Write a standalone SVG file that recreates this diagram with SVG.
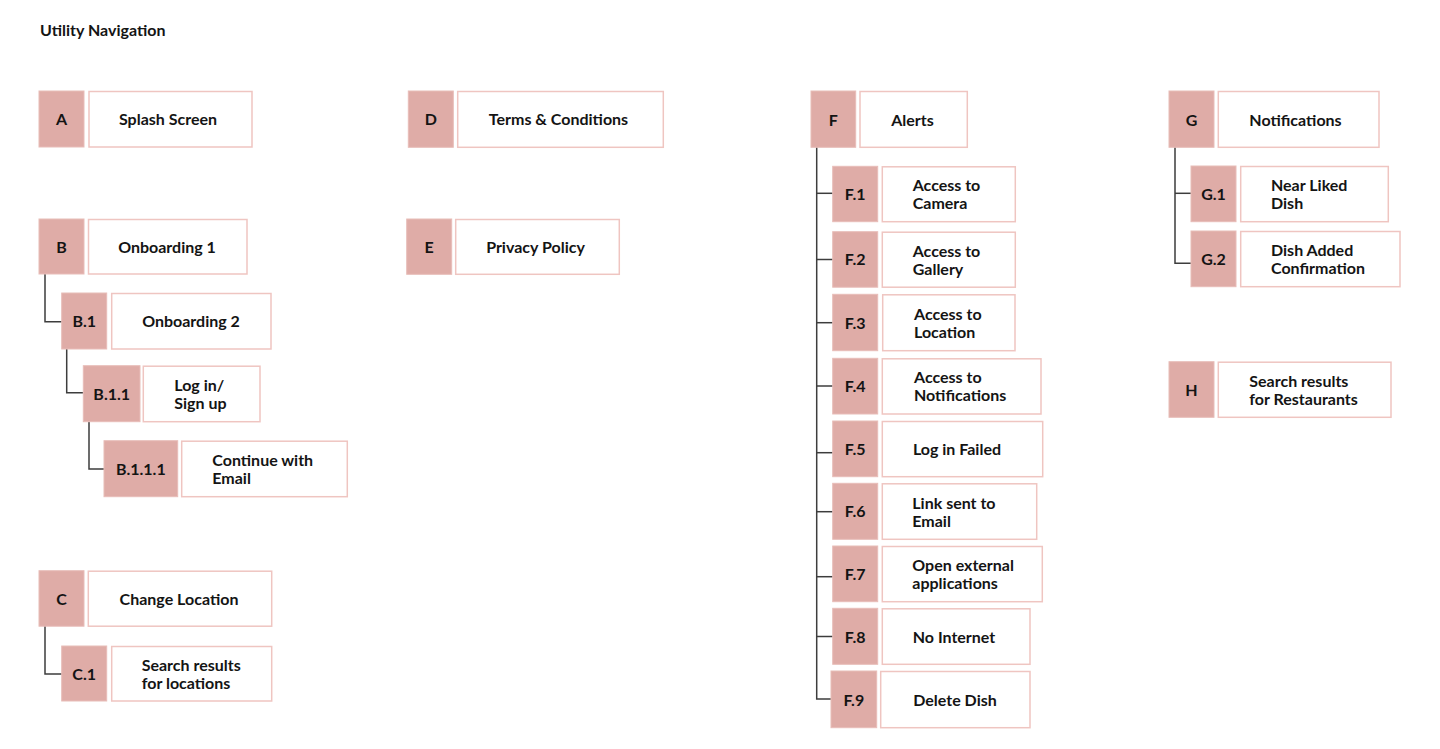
<svg xmlns="http://www.w3.org/2000/svg" width="1440" height="749" viewBox="0 0 1440 749">
<style>
.code{fill:#dfaca7;stroke:#e8bdb8;stroke-width:1}
.lab{fill:#ffffff;stroke:#efc5c1;stroke-width:1.5}
text{font-family:Lato,"Noto Sans",sans-serif;font-weight:700;font-size:16px;fill:#141414}
.c{text-anchor:middle}
.title{font-size:16px}
.conn{fill:none;stroke:#3d3d3d;stroke-width:1.5}
</style>
<rect width="1440" height="749" fill="#ffffff"/>
<text x="40" y="36" class="title">Utility Navigation</text>

<g id="connectors">
<path class="conn" d="M45 274 V321.7 H62"/>
<path class="conn" d="M66.7 349 V392.7 H83.5"/>
<path class="conn" d="M89 421.7 V469 H104"/>
<path class="conn" d="M45 626 V674 H62"/>
<path class="conn" d="M816.7 147 V699 H831"/>
<path class="conn" d="M816.7 193.3 H833"/>
<path class="conn" d="M816.7 259.5 H833"/>
<path class="conn" d="M816.7 322.7 H833"/>
<path class="conn" d="M816.7 386 H833"/>
<path class="conn" d="M816.7 452.7 H833"/>
<path class="conn" d="M816.7 511.7 H833"/>
<path class="conn" d="M816.7 576.7 H833"/>
<path class="conn" d="M816.7 636.5 H833"/>
<path class="conn" d="M1175 147 V263.3 H1191"/>
<path class="conn" d="M1175 193.3 H1191"/>
</g>

<g id="A">
<rect class="code" x="39" y="91" width="45" height="56"/>
<rect class="lab" x="89" y="91.5" width="163" height="55.5"/>
<text class="c" x="61.5" y="125">A</text>
<text class="c" x="168" y="125">Splash Screen</text>
</g>

<g id="B">
<rect class="code" x="39" y="219" width="45" height="55"/>
<rect class="lab" x="88.5" y="219.5" width="158.5" height="54.5"/>
<text class="c" x="61.5" y="252.5">B</text>
<text class="c" x="167" y="252.5">Onboarding 1</text>
</g>

<g id="B.1">
<rect class="code" x="61.7" y="293" width="45" height="56"/>
<rect class="lab" x="111.7" y="293.5" width="159.3" height="55.5"/>
<text class="c" x="84.2" y="327">B.1</text>
<text class="c" x="191" y="327">Onboarding 2</text>
</g>

<g id="B.1.1">
<rect class="code" x="83.3" y="365.7" width="56.7" height="56"/>
<rect class="lab" x="143.3" y="366.2" width="116.7" height="55.5"/>
<text class="c" x="111.7" y="399.5">B.1.1</text>
<text x="174.3" y="390.5">Log in/</text>
<text x="174.3" y="408.5">Sign up</text>
</g>

<g id="B.1.1.1">
<rect class="code" x="104" y="440.7" width="73.7" height="56"/>
<rect class="lab" x="181.7" y="441.2" width="165.6" height="55.5"/>
<text class="c" x="140.8" y="474.5">B.1.1.1</text>
<text x="212.3" y="466">Continue with</text>
<text x="212.3" y="484">Email</text>
</g>

<g id="C">
<rect class="code" x="39" y="570.7" width="45" height="55.5"/>
<rect class="lab" x="88.3" y="571.2" width="183.4" height="55"/>
<text class="c" x="61.5" y="604.5">C</text>
<text class="c" x="179" y="604.5">Change Location</text>
</g>

<g id="C.1">
<rect class="code" x="61.7" y="646" width="45" height="55"/>
<rect class="lab" x="111.7" y="646.5" width="160" height="54.5"/>
<text class="c" x="84.2" y="679.5">C.1</text>
<text x="141.7" y="670.5">Search results</text>
<text x="141.7" y="688.5">for locations</text>
</g>

<g id="D">
<rect class="code" x="408.3" y="91" width="45" height="56.3"/>
<rect class="lab" x="457.7" y="91.5" width="205.6" height="55.8"/>
<text class="c" x="430.8" y="125">D</text>
<text class="c" x="558.5" y="125">Terms &amp; Conditions</text>
</g>

<g id="E">
<rect class="code" x="406.7" y="219" width="45" height="55.3"/>
<rect class="lab" x="455.7" y="219.5" width="163.6" height="54.8"/>
<text class="c" x="429.2" y="252.5">E</text>
<text class="c" x="535.5" y="252.5">Privacy Policy</text>
</g>

<g id="F">
<rect class="code" x="811" y="91" width="44.7" height="56.3"/>
<rect class="lab" x="860" y="91.5" width="107.3" height="55.8"/>
<text class="c" x="833.3" y="125.5">F</text>
<text class="c" x="912.5" y="125.5">Alerts</text>
</g>

<g id="F.1">
<rect class="code" x="832.7" y="166.3" width="45" height="55.4"/>
<rect class="lab" x="882.3" y="166.8" width="133" height="54.9"/>
<text class="c" x="855.2" y="199.5">F.1</text>
<text x="912.7" y="191">Access to</text>
<text x="912.7" y="209">Camera</text>
</g>

<g id="F.2">
<rect class="code" x="832.7" y="231.7" width="45" height="55.5"/>
<rect class="lab" x="882.3" y="232.2" width="133" height="55"/>
<text class="c" x="855.2" y="265">F.2</text>
<text x="912.7" y="256.5">Access to</text>
<text x="912.7" y="274.5">Gallery</text>
</g>

<g id="F.3">
<rect class="code" x="832.7" y="294.3" width="45" height="56.4"/>
<rect class="lab" x="882.7" y="294.8" width="132.3" height="55.9"/>
<text class="c" x="855.2" y="328.5">F.3</text>
<text x="914" y="319.8">Access to</text>
<text x="914" y="337.8">Location</text>
</g>

<g id="F.4">
<rect class="code" x="832.7" y="358.3" width="45" height="55.7"/>
<rect class="lab" x="882.3" y="358.8" width="158.7" height="55.2"/>
<text class="c" x="855.2" y="392">F.4</text>
<text x="914" y="383.3">Access to</text>
<text x="914" y="401.3">Notifications</text>
</g>

<g id="F.5">
<rect class="code" x="832.7" y="421" width="45" height="55.7"/>
<rect class="lab" x="882.3" y="421.5" width="160.4" height="55.2"/>
<text class="c" x="855.2" y="455">F.5</text>
<text class="c" x="957" y="455">Log in Failed</text>
</g>

<g id="F.6">
<rect class="code" x="832.7" y="483.3" width="45" height="56"/>
<rect class="lab" x="882.3" y="483.8" width="154.4" height="55.5"/>
<text class="c" x="855.2" y="517">F.6</text>
<text x="912.3" y="508.5">Link sent to</text>
<text x="912.3" y="526.5">Email</text>
</g>

<g id="F.7">
<rect class="code" x="832.7" y="546" width="45" height="55.7"/>
<rect class="lab" x="882.3" y="546.5" width="160" height="55.2"/>
<text class="c" x="855.2" y="580">F.7</text>
<text x="912.3" y="571">Open external</text>
<text x="912.3" y="589">applications</text>
</g>

<g id="F.8">
<rect class="code" x="832.7" y="608.3" width="45" height="56"/>
<rect class="lab" x="882.3" y="608.8" width="147.7" height="55.5"/>
<text class="c" x="855.2" y="642.5">F.8</text>
<text class="c" x="954" y="642.5">No Internet</text>
</g>

<g id="F.9">
<rect class="code" x="831" y="671" width="45.7" height="56.7"/>
<rect class="lab" x="880.7" y="671.5" width="149.3" height="56.2"/>
<text class="c" x="853.8" y="705.5">F.9</text>
<text class="c" x="955" y="705.5">Delete Dish</text>
</g>

<g id="G">
<rect class="code" x="1169" y="91" width="45" height="56.3"/>
<rect class="lab" x="1218.3" y="91.5" width="160.7" height="55.8"/>
<text class="c" x="1191.5" y="125.5">G</text>
<text class="c" x="1295.5" y="125.5">Notifications</text>
</g>

<g id="G.1">
<rect class="code" x="1191" y="166" width="45" height="55.7"/>
<rect class="lab" x="1240.7" y="166.5" width="147.6" height="55.2"/>
<text class="c" x="1213.5" y="199.5">G.1</text>
<text x="1271" y="191">Near Liked</text>
<text x="1271" y="209">Dish</text>
</g>

<g id="G.2">
<rect class="code" x="1191" y="231" width="45" height="55.7"/>
<rect class="lab" x="1240.7" y="231.5" width="159.3" height="55.2"/>
<text class="c" x="1213.5" y="264.5">G.2</text>
<text x="1271" y="256">Dish Added</text>
<text x="1271" y="274">Confirmation</text>
</g>

<g id="H">
<rect class="code" x="1169" y="361.7" width="45" height="55.6"/>
<rect class="lab" x="1218.3" y="362.2" width="172.7" height="55.1"/>
<text class="c" x="1191.5" y="395.5">H</text>
<text x="1249.3" y="386.5">Search results</text>
<text x="1249.3" y="404.5">for Restaurants</text>
</g>
</svg>
